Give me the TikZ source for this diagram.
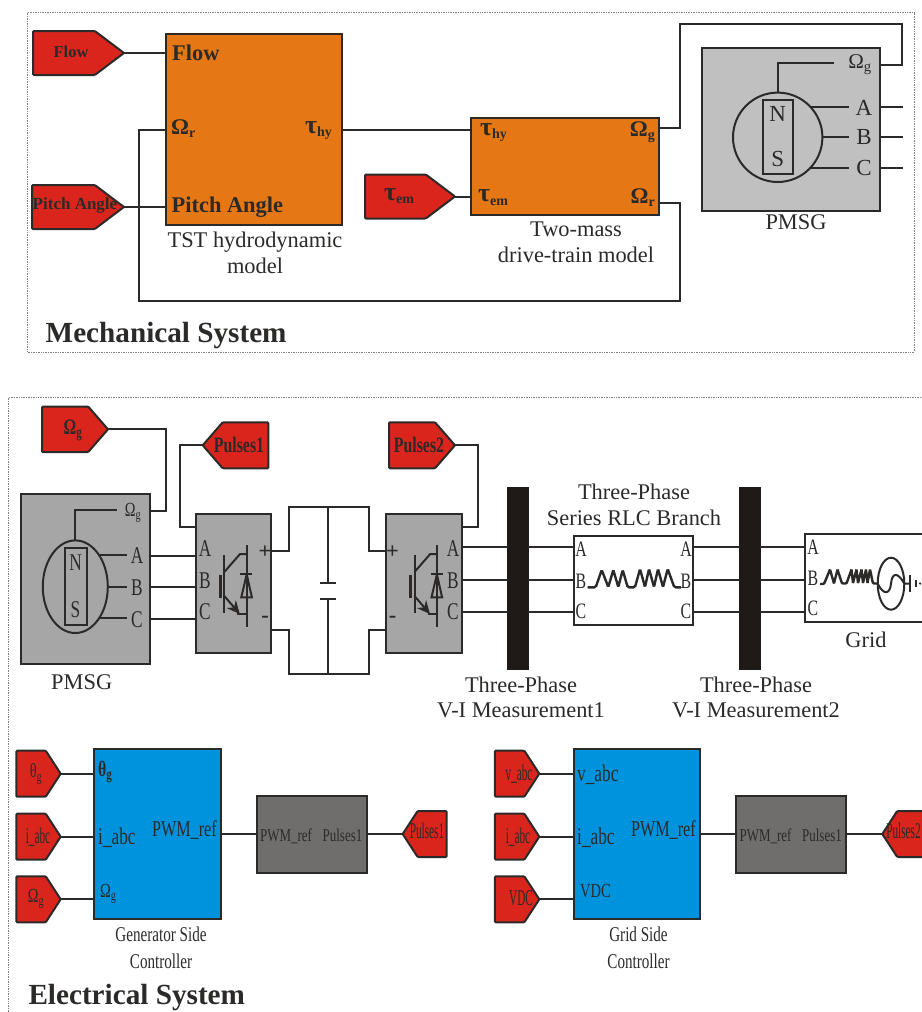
\documentclass[tikz,border=0pt]{standalone}
\usepackage{fontspec}
\setmainfont{Liberation Serif}
\newfontfamily\narrowfont[FakeStretch=0.72]{Liberation Serif}
\newfontfamily\tightfont[FakeStretch=0.5]{Liberation Serif}
\usepackage{xcolor}
\definecolor{wirecol}{RGB}{43,42,41}
\definecolor{barblack}{RGB}{31,26,23}
\definecolor{tagred}{RGB}{218,37,29}
\definecolor{hydroorange}{RGB}{229,119,21}
\definecolor{pmsggray}{RGB}{192,192,192}
\definecolor{convgray}{RGB}{166,166,166}
\definecolor{pwmgray}{RGB}{111,110,108}
\definecolor{ctrlblue}{RGB}{0,147,221}
\usetikzlibrary{arrows.meta, positioning, shapes.geometric, shapes.symbols, calc}
\newcommand{\sublow}[1]{\raisebox{-3.5pt}{\fontsize{14}{14}\selectfont #1}}
\newcommand{\taubig}[1]{{\fontsize{26}{26}\selectfont τ}\sublow{#1}}
\tikzset{
  wire/.style={line width=2pt, draw=wirecol},
  block/.style={draw=wirecol, line width=2pt, inner sep=0pt, outer sep=0pt, anchor=north west},
  framedot/.style={draw=gray, line width=0.7pt, densely dotted},
  tagright/.style={shape=signal, signal to=east, signal from=nowhere, draw=wirecol, fill=tagred,
    line width=2pt, inner sep=0pt, outer sep=0pt, anchor=east, rounded corners=1pt},
  tagleft/.style={shape=signal, signal to=west, signal from=nowhere, draw=wirecol, fill=tagred,
    line width=2pt, inner sep=0pt, outer sep=0pt, anchor=west, rounded corners=1pt},
  capt/.style={font=\fontsize{22.4}{25.5}\selectfont, text=wirecol, align=center, inner sep=0pt},
  captnarrow/.style={font=\narrowfont\fontsize{21}{27}\selectfont, text=wirecol, align=center, inner sep=0pt},
  syshead/.style={font=\bfseries\fontsize{29.2}{32}\selectfont, text=wirecol, inner sep=0pt},
  portbold/.style={font=\bfseries\fontsize{22.4}{24}\selectfont, text=wirecol, inner sep=0pt},
  porttall/.style={font=\narrowfont\fontsize{24}{26}\selectfont, text=wirecol, inner sep=0pt},
  portsmall/.style={font=\narrowfont\fontsize{22}{24}\selectfont, text=wirecol, inner sep=0pt},
  portwide/.style={font=\fontsize{23}{26}\selectfont, text=wirecol, inner sep=0pt, minimum width=30pt},
  tagbold/.style={font=\narrowfont\bfseries\fontsize{22}{24}\selectfont, text=wirecol, inner sep=0pt},
  tagthin/.style={font=\narrowfont\fontsize{20}{24}\selectfont, text=wirecol, inner sep=0pt},
  tagtight/.style={font=\tightfont\fontsize{22.5}{24}\selectfont, text=wirecol, inner sep=0pt},
  pwmtext/.style={font=\narrowfont\fontsize{18}{20}\selectfont, text=wirecol, inner sep=0pt},
  igbt/.pic={
    \draw[wire] (0,-30) -- (0,28);
    \draw[wire, line width=3pt] (-4.3,-10) -- (-4.3,13);
    \draw[wire] (0,-13) -- (15.7,-31) -- (22.4,-31);
    \draw[wire, -{Stealth[length=13pt,width=12pt]}] (0,11) -- (15.5,29);
    \draw[wire] (13,29) -- (22.4,29);
    \draw[wire] (22.4,-40) -- (22.4,41.7);
    \draw[wire] (16,-10.7) -- (28,-10.7);
    \draw[wire] (22.4,-10.7) -- (17,12.3) -- (27.6,12.3) -- cycle;
  }
}

\begin{document}
\begin{tikzpicture}[x=1pt, y=-1pt]
  \useasboundingbox (0,0) rectangle (921,1012);

  % Dotted frames
  \draw[framedot] (27,12.5) rectangle (914,352);
  \draw[framedot] (8.5,1012) -- (8.5,397) -- (921,397);

  % --- Mechanical system ---
  \node[block, fill=hydroorange, minimum width=176.5pt, minimum height=191pt] (hydro) at (165.5,34) {};
  \node[block, fill=hydroorange, minimum width=188pt, minimum height=97pt] (twomass) at (471,117.7) {};
  \node[block, fill=pmsggray, minimum width=178pt, minimum height=163.3pt] (pmsg) at (702.3,48) {};
  \node[tagright, minimum width=91pt, minimum height=44pt, signal pointer angle=74] (flowtag) at (124,53) {};
  \node[tagright, minimum width=92pt, minimum height=44pt, signal pointer angle=74] (pitchtag) at (124,207) {};
  \node[tagright, minimum width=90pt, minimum height=44pt, signal pointer angle=74] (emtag) at (455,196.5) {};
  \node[portbold, font=\bfseries\fontsize{16.5}{18}\selectfont] (flowtext) at (71,52) {Flow};
  \node[portbold, font=\bfseries\fontsize{17}{18}\selectfont] (pitchtext) at (75,205) {Pitch Angle};
  \node[portbold, anchor=base] (emtext) at (399,200) {\taubig{em}};
  % Hydrodynamic block ports
  \node[portbold, anchor=west] (hydroflow) at (172,53) {Flow};
  \node[portbold, anchor=base west] (hydroomega) at (171,134) {Ω\sublow{r}};
  \node[portbold, anchor=west] (hydropitch) at (171.5,207) {Pitch Angle};
  \node[portbold, anchor=base east] (hydrotau) at (332,133) {\taubig{hy}};
  \node[capt] (hydrocapt) at (255,253) {TST hydrodynamic\\model};
  % Two-mass block ports
  \node[portbold, anchor=base west] (twotau) at (480,135) {\taubig{hy}};
  \node[portbold, anchor=base west] (twoem) at (478,201.7) {\taubig{em}};
  \node[portbold, anchor=base east] (twoomg) at (655,136) {Ω\sublow{g}};
  \node[portbold, anchor=base east] (twoomr) at (655,203) {Ω\sublow{r}};
  \node[capt] (twocapt) at (576,242.5) {Two-mass\\drive-train model};
  % Generator drawing
  \node[draw=wirecol, line width=2pt, circle, minimum size=89.4pt, inner sep=0pt, outer sep=0pt] (rotor) at (777.7,137.3) {};
  \node[draw=wirecol, line width=2pt, minimum width=30pt, minimum height=74pt, inner sep=0pt, outer sep=0pt] (magnet) at (777.7,137.3) {};
  \node[portwide] (magnetn) at (777.7,114) {N};
  \node[portwide] (magnets) at (777.7,159) {S};
  \node[portwide] (pmsga) at (864,108) {A};
  \node[portwide] (pmsgb) at (864,137.5) {B};
  \node[portwide] (pmsgc) at (864,168) {C};
  \node[portwide, font=\fontsize{21}{24}\selectfont] (pmsgomg) at (860,65) {Ω\textsubscript{g}};
  \node[capt] (pmsgcapt) at (796,222) {PMSG};
  \coordinate (rotorout) at (834,62.5);
  \draw[wire] (rotor.north) |- (rotorout);
  \draw[wire] (rotor.43) -- (rotor.43 -| pmsga.west);
  \draw[wire] (rotor.east) -- (rotor.east -| pmsgb.west);
  \draw[wire] (rotor.-43) -- (rotor.-43 -| pmsgc.west);
  \draw[wire] (pmsg.east |- rotor.43) -- ++(23,0);
  \draw[wire] (pmsg.east |- rotor.east) -- ++(23,0);
  \draw[wire] (pmsg.east |- rotor.-43) -- ++(23,0);
  % Mechanical connectors
  \coordinate (hydroport) at (165.5,129.5);
  \coordinate (fbcorner) at (138.5,301);
  \coordinate (omgout) at (659,128);
  \coordinate (omgturn) at (680,24);
  \coordinate (omgtop) at (902,24);
  \coordinate (pmsgin) at (880.3,64.5);
  \coordinate (omrout) at (659,203.3);
  \coordinate (omrturn) at (679.5,301);
  \draw[wire] (flowtag.east) -- (flowtag.east -| hydro.west);
  \draw[wire] (pitchtag.east) -- (pitchtag.east -| hydro.west);
  \draw[wire] (hydro.east |- hydroport) -- (twomass.west |- hydroport);
  \draw[wire] (emtag.east) -- (emtag.east -| twomass.west);
  \draw[wire] (omgout) -| (omgturn) -- (omgtop) |- (pmsgin);
  \draw[wire] (omrout) -| (omrturn) -- (fbcorner) |- (hydroport);
  \node[syshead, anchor=west] (mechhead) at (45.5,336) {Mechanical System};

  % --- Electrical system ---
  \node[block, fill=convgray, minimum width=128.7pt, minimum height=170pt] (pmsgtwo) at (21,494) {};
  \node[block, fill=convgray, minimum width=75.3pt, minimum height=138.4pt] (convone) at (195.7,514.3) {};
  \node[block, fill=convgray, minimum width=75.3pt, minimum height=138.4pt] (convtwo) at (386.4,514.3) {};
  \node[tagright, minimum width=66pt, minimum height=45.6pt, signal pointer angle=98] (omgtag) at (108,429.3) {};
  \node[tagleft, minimum width=65.6pt, minimum height=46pt, signal pointer angle=98] (pulsonetag) at (202.7,445.3) {};
  \node[tagright, minimum width=66pt, minimum height=46pt, signal pointer angle=98] (pulstwotag) at (455,445.3) {};
  \node[tagbold] (omgtagtext) at (73,430) {Ω\textsubscript{g}};
  \node[tagbold] (pulsonetext) at (239,445) {Pulses1};
  \node[tagbold] (pulstwotext) at (419,445) {Pulses2};
  % Generator drawing
  \node[draw=wirecol, line width=2pt, ellipse, minimum width=65pt, minimum height=92.6pt, inner sep=0pt, outer sep=0pt] (rotortwo) at (75.3,586.7) {};
  \node[draw=wirecol, line width=2pt, minimum width=22pt, minimum height=77pt, inner sep=0pt, outer sep=0pt] (magnettwo) at (75.7,586.8) {};
  \node[porttall] (magnettwon) at (75.5,563) {N};
  \node[porttall] (magnettwos) at (75.5,610) {S};
  \node[porttall] (pmsgtwoa) at (137,556) {A};
  \node[porttall] (pmsgtwob) at (137,588) {B};
  \node[porttall] (pmsgtwoc) at (137,620) {C};
  \node[tagthin] (pmsgtwoomg) at (133,513) {Ω\textsubscript{g}};
  \node[capt] (pmsgtwocapt) at (81.7,682.3) {PMSG};
  \coordinate (rotortwoout) at (116.7,509.5);
  \coordinate (rotortwostub) at (127.3,555.7);
  \coordinate (convina) at (195.7,555.7);
  \coordinate (convinb) at (195.7,587.3);
  \coordinate (convinc) at (195.7,618.7);
  \draw[wire] (rotortwo.north) |- (rotortwoout);
  \draw[wire] (rotortwo.53) -- (rotortwo.53 -| rotortwostub);
  \draw[wire] (rotortwo.east) -- (rotortwo.east -| rotortwostub);
  \draw[wire] (rotortwo.-53) -- (rotortwo.-53 -| rotortwostub);
  \draw[wire] (pmsgtwo.east |- convina) -- (convina);
  \draw[wire] (pmsgtwo.east |- convinb) -- (convinb);
  \draw[wire] (pmsgtwo.east |- convinc) -- (convinc);
  % Converter ports and switches
  \node[porttall] (convonea) at (205,549) {A};
  \node[porttall] (convoneb) at (205,581) {B};
  \node[porttall] (convonec) at (205,612) {C};
  \node[portbold] (convoneplus) at (265,552) {+};
  \node[portbold] (convoneminus) at (265,619) {-};
  \node[porttall] (convtwoa) at (453,549) {A};
  \node[porttall] (convtwob) at (453,581) {B};
  \node[porttall] (convtwoc) at (453,612) {C};
  \node[portbold] (convtwoplus) at (392.5,552) {+};
  \node[portbold] (convtwominus) at (392.5,619) {-};
  \pic at (224.3,585) {igbt};
  \pic at (414.5,585) {igbt};
  % DC link
  \coordinate (dctopl) at (271,551);
  \coordinate (dctopr) at (386.4,551);
  \coordinate (dcbotl) at (271,630.3);
  \coordinate (dcbotr) at (386.4,630.3);
  \coordinate (dcnorthl) at (288.7,507.3);
  \coordinate (dcnorthr) at (369,507.3);
  \coordinate (dcsouthl) at (288.7,674.3);
  \coordinate (dcsouthr) at (369,674.3);
  \coordinate (capnorth) at (328.3,507.3);
  \coordinate (capsouth) at (328.3,674.3);
  \coordinate (plateup) at (328.3,582.7);
  \coordinate (platedown) at (328.3,599);
  \draw[wire] (dctopl) -| (dcnorthl) -- (dcnorthr) |- (dctopr);
  \draw[wire] (dcbotl) -| (dcsouthl) -- (dcsouthr) |- (dcbotr);
  \draw[wire] (capnorth) -- (plateup);
  \draw[wire] (capsouth) -- (platedown);
  \draw[wire] ($(plateup)+(-8,0)$) -- ($(plateup)+(8,0)$);
  \draw[wire] ($(platedown)+(-8,0)$) -- ($(platedown)+(8,0)$);
  % Pulse and speed signals
  \coordinate (omgturntwo) at (165.5,429.3);
  \coordinate (pmsgtwoin) at (149.7,511);
  \coordinate (pulsoneturn) at (179.7,445.3);
  \coordinate (convoneg) at (195.7,527);
  \coordinate (pulstwoturn) at (477.7,445.3);
  \coordinate (convtwog) at (461.7,527);
  \draw[wire] (omgtag.east) -- (omgturntwo) |- (pmsgtwoin);
  \draw[wire] (pulsonetag.west) -- (pulsoneturn) |- (convoneg);
  \draw[wire] (pulstwotag.east) -- (pulstwoturn) |- (convtwog);
  % Measurements, branch and grid
  \node[block, fill=barblack, draw=barblack, minimum width=20.3pt, minimum height=180.7pt] (measone) at (508,488.3) {};
  \node[block, fill=barblack, draw=barblack, minimum width=20pt, minimum height=180.7pt] (meastwo) at (740,488.3) {};
  \node[block, fill=white, minimum width=119.6pt, minimum height=89pt] (branch) at (573.7,535.7) {};
  \node[block, fill=white, minimum width=140pt, minimum height=88.6pt] (grid) at (805,533.7) {};
  \coordinate (phasea) at (461.7,546.7);
  \coordinate (phaseb) at (461.7,580.3);
  \coordinate (phasec) at (461.7,612.3);
  \foreach \ph in {phasea,phaseb,phasec} {
    \draw[wire] (\ph) -- (\ph -| measone.west);
    \draw[wire] (\ph -| measone.east) -- (\ph -| branch.west);
    \draw[wire] (\ph -| branch.east) -- (\ph -| meastwo.west);
    \draw[wire] (\ph -| meastwo.east) -- (\ph -| grid.west);
  }
  \node[portsmall] (branchla) at (581,549) {A};
  \node[portsmall] (branchlb) at (581,581) {B};
  \node[portsmall] (branchlc) at (581,611) {C};
  \node[portsmall] (branchra) at (686,549) {A};
  \node[portsmall] (branchrb) at (686,581) {B};
  \node[portsmall] (branchrc) at (686,611) {C};
  \node[portsmall] (grida) at (813,547) {A};
  \node[portsmall] (gridb) at (813,578) {B};
  \node[portsmall] (gridc) at (813,608) {C};
  % RL symbol of the branch
  \draw[wire, line width=2.4pt, rounded corners=1.5pt] (587.7,587.3) -- (595.7,587.3) -- (601.7,570) -- (608.3,587) -- (613.3,570)
    -- (618.3,587) -- (622.7,570) -- (627.7,587.3) -- (635,587.3) -- (640,569) -- (645,587) -- (649,569) -- (654,587)
    -- (658,569) -- (663,587) -- (667.7,569) -- (674.3,587.3) -- (681,587.3);
  % RL symbol, source and earth of the grid
  \draw[wire, line width=2.4pt, rounded corners=1pt] (820,584) -- (824,584) -- (830,569.5) -- (834,583.5) -- (837.5,569.5)
    -- (842,583.5) -- (846.5,583.5) -- (851.5,569.5) -- (853,583) -- (856.5,569.5) -- (858,583) -- (861.5,569.5)
    -- (863,583) -- (866,569.5) -- (867.5,583) -- (870,569.5) -- (873,583.5) -- (878,583.5);
  \node[draw=wirecol, line width=2pt, ellipse, minimum width=26.6pt, minimum height=52pt, inner sep=0pt, outer sep=0pt] (source) at (891,583.7) {};
  \draw[wire] (source.west) .. controls (884,596) and (890,594) .. (source.center) .. controls (892,572) and (898,572) .. (source.east);
  \coordinate (earthone) at (910,583.5);
  \coordinate (earthtwo) at (915.7,583.5);
  \draw[wire] (source.east) -- (earthone);
  \draw[wire] ($(earthone)+(0,-8.5)$) -- ($(earthone)+(0,8.5)$);
  \draw[wire] ($(earthtwo)+(0,-3.5)$) -- ($(earthtwo)+(0,3.5)$);
  \node[circle, fill=wirecol, minimum size=2.5pt, inner sep=0pt] (earthdot) at (920,583.5) {};
  % Labels of the power path
  \node[capt] (branchcapt) at (634,505) {Three-Phase\\Series RLC Branch};
  \node[capt] (measonecapt) at (521,697.5) {Three-Phase\\V-I Measurement1};
  \node[capt] (meastwocapt) at (756,697.5) {Three-Phase\\V-I Measurement2};
  \node[capt] (gridcapt) at (866,640) {Grid};

  % --- Generator side controller ---
  \node[block, fill=ctrlblue, minimum width=126.2pt, minimum height=169.7pt] (genctrl) at (94.3,749.3) {};
  \node[block, fill=pwmgray, minimum width=109.7pt, minimum height=76.4pt] (genpwm) at (257,796.3) {};
  \node[tagright, minimum width=44.4pt, minimum height=46pt, signal pointer angle=114] (thetatag) at (60.7,773.7) {};
  \node[tagright, minimum width=44.4pt, minimum height=46pt, signal pointer angle=114] (genitag) at (60.7,836.7) {};
  \node[tagright, minimum width=44.4pt, minimum height=46pt, signal pointer angle=114] (genomgtag) at (60.7,899.3) {};
  \node[tagleft, minimum width=44pt, minimum height=46pt, signal pointer angle=114] (genpulstag) at (402.7,834) {};
  \node[tagthin] (thetatext) at (36,774) {θ\textsubscript{g}};
  \node[tagtight] (genitext) at (38,837) {i\_abc};
  \node[tagthin] (genomgtext) at (36,899) {Ω\textsubscript{g}};
  \node[tagtight] (genpulstext) at (427,831) {Pulses1};
  \node[tagbold, anchor=west] (genctrltheta) at (98,772) {θ\textsubscript{g}};
  \node[porttall, anchor=west] (genctrli) at (98,838) {i\_abc};
  \node[tagthin, anchor=west] (genctrlomg) at (100,894) {Ω\textsubscript{g}};
  \node[portsmall, font=\narrowfont\fontsize{22.5}{24}\selectfont, anchor=east] (genctrlpwm) at (217,830) {PWM\_ref};
  \node[pwmtext, anchor=west] (genpwmin) at (260,836) {PWM\_ref};
  \node[pwmtext, anchor=east] (genpwmout) at (362.5,835) {Pulses1};
  \node[captnarrow] (genctrlcapt) at (161,947.5) {Generator Side\\Controller};
  \draw[wire] (thetatag.east) -- (thetatag.east -| genctrl.west);
  \draw[wire] (genitag.east) -- (genitag.east -| genctrl.west);
  \draw[wire] (genomgtag.east) -- (genomgtag.east -| genctrl.west);
  \draw[wire] (genctrl.east |- genpulstag.west) -- (genpwm.west |- genpulstag.west);
  \draw[wire] (genpwm.east |- genpulstag.west) -- (genpulstag.west);

  % --- Grid side controller ---
  \node[block, fill=ctrlblue, minimum width=126.3pt, minimum height=169.7pt] (gridctrl) at (573.7,749.3) {};
  \node[block, fill=pwmgray, minimum width=109.7pt, minimum height=76.4pt] (gridpwm) at (736.3,796.3) {};
  \node[tagright, minimum width=44.4pt, minimum height=46pt, signal pointer angle=114] (vtag) at (539.3,773.7) {};
  \node[tagright, minimum width=44.4pt, minimum height=46pt, signal pointer angle=114] (griditag) at (539.3,836.7) {};
  \node[tagright, minimum width=44.4pt, minimum height=46pt, signal pointer angle=114] (vdctag) at (539.3,899.3) {};
  \node[tagleft, minimum width=44pt, minimum height=46pt, signal pointer angle=114] (gridpulstag) at (882.3,834) {};
  \node[tagtight] (vtext) at (519,774) {v\_abc};
  \node[tagtight] (griditext) at (518,837) {i\_abc};
  \node[tagtight] (vdctext) at (521,898) {VDC};
  \node[tagtight] (gridpulstext) at (903.5,831) {Pulses2};
  \node[porttall, anchor=west] (gridctrlv) at (577,775) {v\_abc};
  \node[porttall, anchor=west] (gridctrli) at (577,838) {i\_abc};
  \node[tagthin, anchor=west] (gridctrlvdc) at (580,891) {VDC};
  \node[portsmall, font=\narrowfont\fontsize{22.5}{24}\selectfont, anchor=east] (gridctrlpwm) at (696,830) {PWM\_ref};
  \node[pwmtext, anchor=west] (gridpwmin) at (739.5,836) {PWM\_ref};
  \node[pwmtext, anchor=east] (gridpwmout) at (842,835) {Pulses1};
  \node[captnarrow] (gridctrlcapt) at (638.5,947.5) {Grid Side\\Controller};
  \draw[wire] (vtag.east) -- (vtag.east -| gridctrl.west);
  \draw[wire] (griditag.east) -- (griditag.east -| gridctrl.west);
  \draw[wire] (vdctag.east) -- (vdctag.east -| gridctrl.west);
  \draw[wire] (gridctrl.east |- gridpulstag.west) -- (gridpwm.west |- gridpulstag.west);
  \draw[wire] (gridpwm.east |- gridpulstag.west) -- (gridpulstag.west);

  \node[syshead, anchor=west] (elechead) at (28.3,997.5) {Electrical System};
\end{tikzpicture}
\end{document}
